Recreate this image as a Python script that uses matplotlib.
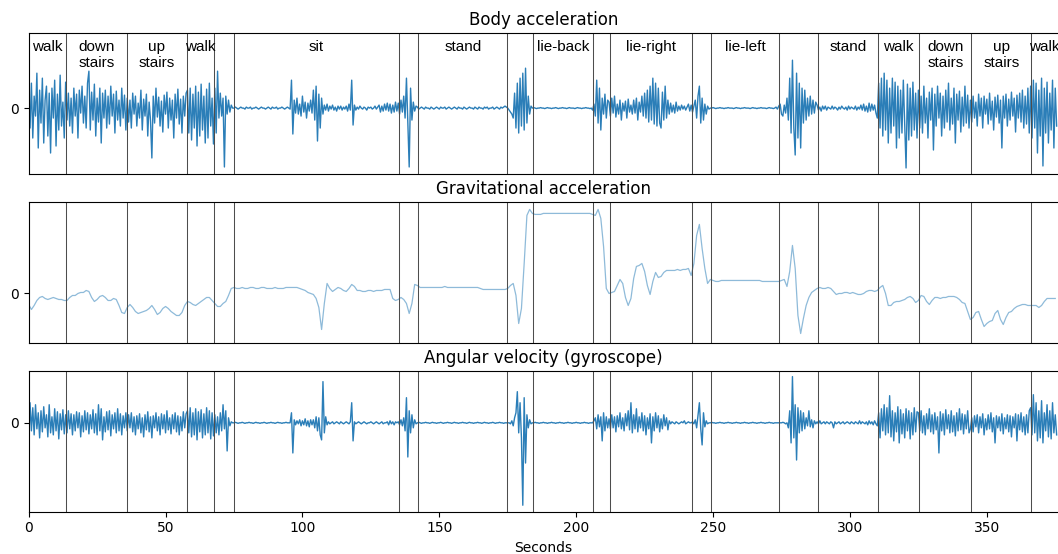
import numpy as np
import matplotlib
matplotlib.use('Agg')
import matplotlib.pyplot as plt

# activity segments (seconds) and their labels
seg_start = [0, 13.8, 35.9, 57.8, 74.9, 142.2, 184.1, 212.2, 249.3, 288.4, 310.3, 325.3, 344.3, 366.2]
seg_end = [13.8, 35.9, 57.8, 67.8, 135.2, 174.9, 206.2, 242.2, 274.1, 310.3, 325.3, 344.3, 366.2, 376]
seg_label = ['walk', 'down\nstairs', 'up\nstairs', 'walk', 'sit', 'stand', 'lie-back',
             'lie-right', 'lie-left', 'stand', 'walk', 'down\nstairs', 'up\nstairs', 'walk']

# body acceleration, one value every 0.5 s (arbitrary units)
body_acc = [
    # walk 0-14
    5, -20, 25, -30, 12, -8, 35, -40, 18, -15, 30, -35, 8, 22, -28, 15, -45, 20, -10, 28,
    -38, 14, -22, 33, -18, 6, -30, 26,
    # down stairs 14-36
    -12, 15, -18, 10, -25, 20, -8, 14, -30, 18, -5, 22, -15, 12, -20, 25, 37, -22, 16, -12,
    24, -28, 10, -14, 20, -35, 15, -10, 18, -20, 12, -16, 22, -8, 14, -25, 17, -12, 8, -18,
    20, -10, 13, -22,
    # up stairs 36-58
    10, -14, 8, -20, 15, -6, 12, -18, 5, -10, 18, -22, 9, -8, 14, -28, 6, -12, -50, 12,
    -15, 20, -9, 11, -18, 7, -24, 13, -6, 16, -20, 10, -12, 8, -30, 14, -10, 19, -16, 9,
    -25, 12, -8, 15,
    # walk 58-68
    18, -25, 20, -32, 14, -20, 22, -38, 16, -28, 24, -22, 12, -35, 19, -30, 25, -18, 10, -36,
    # transition 68-75
    20, -25, 37, -10, 15, -8, 10, -59, 12, -6, 8, -4, 3, 0,
    # sit 75-135
    0, 1, 0, -1, 0, 1, 0, 0, -1, 1, 0, 0, 1, -1, 0, 0, 1, 0, -1, 0,
    1, 0, 0, -1, 0, 1, 0, -1, 1, 0, 0, 1, -1, 0, 0, 1, 0, -1, 0, 1,
    0, -1,
    28, -26, 8, -5, 10, -6, 4, -8, 12, -4, 6, -10, 5, -3, 8, -5,
    18, -12, 22, -33, 14, -20, 10, -6,
    3, -2, 4, -3, 2, -1, 3, -2, 1, -3, 2, -1, 2, -2, 1, -1, 2, -3, 4, -2,
    28, -17,
    3, -2, 1, -1, 2, 0, -1, 1, 0, -2, 1, 0, 1, -1, 0, 2, -1, 1,
    3, -4, 2, -3, 4, -2, 5, -3, 4, -5, 3, -4, 6, -3,
    # transition 135-142
    5, -6, 8, -4, 12, -10, 30, -15, -59, 20, -12, 6, -3, 2,
    # stand 142-175
    1, -1, 0, 1, 0, -1, 1, 0, 0, -1, 1, 0, -1, 0, 1, 0, -1, 1, 0, 0,
    1, -1, 0, 1, 0, -1, 0, 1, 0, -1, 1, 0, 0, -1, 1, 0, -1, 0, 1, 0,
    0, -1, 1, 0, -1, 1, 0, 0, -1, 1, 0, 1, -1, 0, 0, 1, -1, 0, 1, 0,
    -1, 1, 0, 1, 2, 1,
    # transition 175-184
    0, -2, -4, -6, -10, 15, -20, 25, -25, 30, -18, 35, -22, 40, -15, 12, -6, 2,
    # lie-back 184-206
    0, 0.5, 0, -0.5, 0, 0, 0.5, 0, 0, -0.5, 0, 0.5, 0, 0, -0.5, 0, 0, 0.5, 0, -0.5,
    0, 0, 0.5, 0, 0, -0.5, 0, 0.5, 0, 0, 0, -0.5, 0, 0.5, 0, 0, -0.5, 0, 0, 0.5,
    0, 0, -0.5, 0,
    # transition 206-212
    -2, 4, -8, 28, -15, 20, -22, 10, -6, 14, -10, 8,
    # lie-right 212-242
    6, -8, 10, -5, 12, -9, 4, -6, 8, -12, 5, -3, 7, -10, 9, -4, 3, -6, 8, -5,
    10, -12, 6, -4, 12, -8, 15, -10, 18, -14, 22, -12, 30, -16, 25, -18, 20, -15, -20, 16,
    -12, 22, -10, 8, -6, 5, -4, 3, -5, 6, -3, 2, -2, 3, -1, 2, -2, 1, 4, -3,
    # transition 242-249
    3, -4, 2, 8, -10, 12, 22, -15, 10, -12, 4, -6, 2, -1,
    # lie-left 249-274
    0, 0, 0.5, 0, -0.5, 0, 0, 0.5, 0, 0, -0.5, 0, 0, 0.5, 0, 0, 0, -0.5, 0, 0.5,
    0, 0, -0.5, 0, 0, 0.5, 0, 0, 0, -0.5, 0, 0.5, 0, 0, -0.5, 0, 0, 0.5, 0, 0,
    0, -0.5, 0, 0.5, 0, 0, -0.5, 0, 1, -1,
    # transition 274-288
    2, 4, -6, -8, 3, -5, 10, -12, 30, -25, 48, -20, -47, 35, -30, 25, -40, 20, -15, 18,
    -12, 10, -8, 12, -6, 8, -5, 6,
    # stand 288-310
    3, -2, 1, -3, 2, -1, 2, -2, 1, 0, -1, 2, -1, 1, 0, -2, 1, -1, 2, 0,
    -1, 1, -2, 2, -1, 1, 0, -1, 2, -2, 1, -1, 3, -2, 4, -3, 2, -4, 5, -3,
    4, -2, 3, -5,
    # walk 310-325
    -10, 25, -20, 30, -28, 35, -22, 28, -35, 20, -25, 30, -18, 26, -40, 22, -30, 18, -25, 28,
    -15, -60, 24, -32, 20, -28, 26, -22, 15, -30,
    # down stairs 325-344
    18, -20, 12, -25, 22, -15, 10, -30, 16, -12, 20, -42, 14, -18, 22, -10, 15, -28, 12, -20,
    18, -14, 25, -22, 10, -16, 20, -35, 14, -12, 17, -24, 11, -18, 22, -15, 13, -20,
    # up stairs 344-366
    8, -14, 12, -10, 6, -18, 14, -8, 10, -20, 12, -6, 9, -16, 15, -12, 7, -22, 11, -9,
    13, -15, 8, -40, 12, -10, 14, -18, 9, -12, 16, -8, 10, -24, 13, -10, 15, -14, 18, -20,
    12, -16, 20, -25,
    # walk 366-376
    22, -30, 28, -20, 25, -45, 18, -28, 30, -58, 20, -25, 26, -35, 15, -22, 28, -40, 20, -18,
]

# gravitational acceleration, one value per second
grav_acc = [
    -11, -16, -12, -7, -4, -3, -5, -6, -5, -4,
    -5, -6, -6, -7, -7, -4, -2, -2, 0, 1,
    1, 3, 2, -4, -8, -6, -3, -2, -4, -7,
    -7, -5, -6, -12, -19, -20, -14, -11, -14, -18,
    -20, -19, -18, -17, -15, -12, -16, -21, -19, -15,
    -13, -15, -18, -20, -22, -22, -19, -12, -8, -9,
    -11, -12, -10, -8, -6, -4, -4, -7, -10, -13,
    -13, -10, -8, -2, 5, 6, 5, 5, 6, 5,
    5, 6, 6, 5, 5, 6, 6, 5, 5, 5,
    6, 5, 5, 5, 6, 6, 6, 6, 6, 5,
    4, 3, 1, 0, -1, -5, -14, -36, -10, 10,
    5, 2, 4, 6, 5, 3, 2, 5, 9, 7,
    3, 3, 2, 2, 3, 3, 2, 3, 3, 3,
    4, 4, 4, -5, -7, -6, -4, -6, -10, -20,
    -10, 9, 8, 6, 6, 6, 6, 6, 6, 6,
    6, 6, 7, 6, 6, 6, 6, 6, 6, 6,
    6, 6, 6, 6, 6, 5, 4, 4, 4, 4,
    4, 4, 4, 4, 4, 5, 8, 10, -2, -30,
    -15, 30, 78, 84, 80, 79, 79, 79, 80, 80,
    80, 80, 80, 80, 80, 80, 80, 80, 80, 80,
    80, 80, 80, 80, 80, 80, 79, 78, 84, 75,
    47, 5, 0, 1, 2, 8, 14, 10, -4, -12,
    -5, 15, 27, 28, 30, 22, 8, -1, 12, 21,
    16, 17, 21, 23, 23, 23, 23, 24, 23, 24,
    24, 25, 18, 30, 58, 69, 45, 25, 10, 14,
    13, 12, 12, 13, 13, 13, 13, 13, 13, 13,
    13, 13, 13, 13, 13, 13, 13, 13, 12, 12,
    12, 12, 12, 12, 12, 13, 14, 7, 22, 48,
    25, -22, -40, -25, -12, -4, 1, 3, 5, 6,
    5, 5, 6, 5, 2, -1, 0, 0, 1, 1,
    0, 1, 0, -1, -1, 0, 2, 3, 3, 2,
    3, 6, 8, 0, -12, -12, -9, -8, -8, -7,
    -6, -4, -3, -5, -9, -7, -2, -3, -8, -11,
    -7, -4, -4, -5, -4, -4, -3, -3, -3, -4,
    -6, -9, -10, -18, -26, -24, -19, -18, -26, -33,
    -30, -28, -27, -20, -17, -26, -31, -24, -19, -18,
    -15, -13, -12, -11, -11, -12, -12, -12, -12, -14,
    -12, -8, -5, -5, -5, -5,
]

# angular velocity, one value every 0.5 s
gyro = [
    # walk 0-14
    -23, 20, -8, 15, -12, 18, -6, 10, -15, 12, -9, 16, -5, 8, -14, 18, -10, 6, -12, 14,
    -8, 11, -16, 9, -7, 13, -11, 8,
    # down stairs 14-36
    -10, 12, -6, 9, -12, 8, -8, 11, -5, 10, -14, 7, -9, 12, -7, 10, -11, 8, -6, 13,
    -10, 9, -12, 18, -8, 14, -17, 6, -9, 11, -7, 12, -13, 8, -6, 10, -10, 14, -8, 9,
    -12, 7, -5, 10,
    # up stairs 36-58
    -8, 8, -5, 10, -9, 6, -12, 7, -6, 9, -10, 5, -14, 8, -7, 11, -9, 6, -15, 7,
    -5, 10, -8, 6, -12, 9, -6, 8, -10, 12, -7, 5, -11, 8, -6, 10, -9, 7, -12, 6,
    -8, 11, -5, 9,
    # walk 58-68
    12, -10, 15, -14, 10, -12, 14, -17, 11, -9, 13, -15, 9, -12, 15, -10, 12, -16, 10, -13,
    # transition 68-75
    8, -10, 6, -12, 10, -8, 18, -6, 12, -28, 5, -3, 1, 0,
    # sit 75-135
    0, 0.5, 0, -0.5, 0, 0, 0.5, 0, -0.5, 0, 0, 0.5, 0, 0, -0.5, 0, 0.5, 0, 0, -0.5,
    0, 0, 0.5, 0, -0.5, 0, 0, 0.5, 0, 0, -0.5, 0, 0.5, 0, 0, -0.5, 0, 0, 0.5, 0,
    0, 0,
    10, -30, 3, -2, 2, -1, 3, -3, 2, -2, 4, -3, 2, -4, 3, -2,
    3, -5, 6, -8, 5, -12, -17, 41, -10, 6,
    -2, 1, -1, 0, 1, -1, 0, 1, 0, -1, 1, 0, -1, 0, 1, 0, -1, 1,
    20, -18,
    1, -1, 0, 1, 0, -1, 0, 1, 0, -1, 0, 0, 1, 0, -1, 0, 1, 0, -1, 0,
    1, -1, 0, 0, 1, -2, 2, -1, 1, -2, 1, 0,
    # transition 135-142
    1, -2, 3, -3, 5, -8, 25, -34, 12, -10, 8, -5, 3, -1,
    # stand 142-175
    0, 0.5, 0, -0.5, 0, 0, 0.5, 0, 0, -0.5, 0, 0.5, 0, 0, -0.5, 0, 0, 0.5, 0, -0.5,
    0, 0, 0.5, 0, 0, -0.5, 0, 0.5, 0, 0, -0.5, 0, 0, 0.5, 0, 0, -0.5, 0, 0.5, 0,
    0, -0.5, 0, 0, 0.5, 0, 0, -0.5, 0, 0.5, 0, 0, -0.5, 0, 0, 0.5, 0, -0.5, 0, 0,
    0.5, 0, 0, -0.5, 0, 0,
    # transition 175-184
    0, 0, -1, 2, -3, 5, 10, 31, -10, 20, -15, -82, 25, -40, 8, -5, 3, -1,
    # lie-back 184-206
    0, 0, 0.5, 0, 0, -0.5, 0, 0, 0.5, 0, 0, -0.5, 0, 0, 0.5, 0, 0, -0.5, 0, 0,
    0.5, 0, 0, -0.5, 0, 0, 0.5, 0, 0, -0.5, 0, 0, 0.5, 0, 0, -0.5, 0, 0, 0.5, 0,
    0, -0.5, 0, 0,
    # transition 206-212
    0, 2, 5, -6, 8, -4, 6, -18, 10, -8, 6, -5,
    # lie-right 212-242
    4, -6, 8, -5, 6, -9, 7, -4, 10, -6, 5, -8, 9, -3, 12, -7, 20, -10, 8, -6,
    14, -9, 6, -5, 10, -8, 7, -12, 5, -6, 9, -20, 6, -8, 10, -5, 7, -9, 4, -6,
    8, -3, 5, -7, 2, -1, 1, 0, -1, 1, 0, -1, 0, 1, 0, 2, -1, 0, 1, 0,
    # transition 242-249
    0, 1, -1, 3, -5, 8, 20, -6, -22, 10, -4, 2, -1, 0,
    # lie-left 249-274
    0, 0.5, 0, 0, -0.5, 0, 0, 0.5, 0, 0, -0.5, 0, 0, 0.5, 0, 0, -0.5, 0, 0, 0.5,
    0, 0, -0.5, 0, 0, 0.5, 0, 0, -0.5, 0, 0, 0.5, 0, 0, -0.5, 0, 0, 0.5, 0, 0,
    -0.5, 0, 0, 0.5, 0, 0, -0.5, 0, 0, 0,
    # transition 274-288
    0, 0, 0, 0.5, 0, -1, 0, -5, 12, -20, 46, -15, 18, -37, 15, -10, 12, -8, 10, -6,
    5, -3, 12, -4, 3, -5, 2, -1,
    # stand 288-310
    1, -1, 2, -1, 0, 1, -1, 1, 0, -1, 1, 0, -5, 1, -1, 0, 1, -1, 0, 1,
    -1, 0, 1, 0, -1, 1, 0, -1, 1, 0, -1, 2, -1, 1, 0, -1, 1, -2, 2, -1,
    1, -2, 2, -1,
    # walk 310-325
    -3, 10, -15, 14, -8, 18, -12, 15, -10, 27, -14, 12, -18, 10, -9, 16, -20, 13, -11, 9,
    -15, 14, -8, 12, -16, 10, -12, 15, -9, 11,
    # down stairs 325-344
    10, -8, 12, -10, 7, -12, 9, -6, 14, -9, 8, -11, 10, -7, 6, -30, 11, -8, 9, -12,
    13, -6, 8, -10, 12, -9, 7, -13, 10, -8, 14, -7, 9, -11, 8, -6, 12, -10,
    # up stairs 344-366
    -6, 5, -9, 7, -4, 8, -10, 6, -5, 9, -12, 4, -7, 8, -6, 10, -9, 5, -20, 7,
    -5, 6, -8, 9, -11, 5, -6, 8, -9, 7, -14, 6, -5, 9, -18, 8, -7, 10, -9, 6,
    -12, 8, -10, 12,
    # walk 366-376
    15, -12, 28, -10, 20, -18, 12, -15, 22, -20, 10, -8, 18, -14, 12, -16, 20, -10, 8, -12,
]

t_fast = np.arange(len(body_acc)) * 0.5
t_grav = np.arange(len(grav_acc)) * 1.0

fig, axes = plt.subplots(3, 1, sharex=True, figsize=(10.58, 5.54), dpi=100)
fig.subplots_adjust(left=0.0271, right=1.0, top=0.94, bottom=0.0764, hspace=0.2)

axes[0].plot(t_fast, body_acc, color='tab:blue', linewidth=1.0, alpha=0.95)
axes[1].plot(t_grav, grav_acc, color='tab:blue', linewidth=0.9, alpha=0.5)
axes[2].plot(t_fast, gyro, color='tab:blue', linewidth=1.0, alpha=0.95)

titles = ['Body acceleration', 'Gravitational acceleration', 'Angular velocity (gyroscope)']
ylims = [(-66, 75), (-49.3, 91.3), (-88.4, 51.6)]

# boundaries between activities
edges = sorted(set(seg_start[1:]) | set(seg_end[:-1]))

for ax, title, yl in zip(axes, titles, ylims):
    ax.set_title(title, fontsize=12)
    ax.set_ylim(yl)
    ax.set_yticks([0])
    ax.spines['right'].set_visible(False)
    for x in edges:
        ax.axvline(x, color='0.3', linewidth=0.75)

for s, e, lab in zip(seg_start, seg_end, seg_label):
    axes[0].text((s + e) / 2, 0.955, lab, transform=axes[0].get_xaxis_transform(),
                 ha='center', va='top', fontsize=11, family='Liberation Sans')

axes[0].tick_params(axis='x', bottom=False)
axes[1].tick_params(axis='x', bottom=False)
axes[2].set_xlim(0, 376)
axes[2].set_xticks([0, 50, 100, 150, 200, 250, 300, 350])
axes[2].set_xlabel('Seconds')

plt.savefig('out.png', dpi=100)
